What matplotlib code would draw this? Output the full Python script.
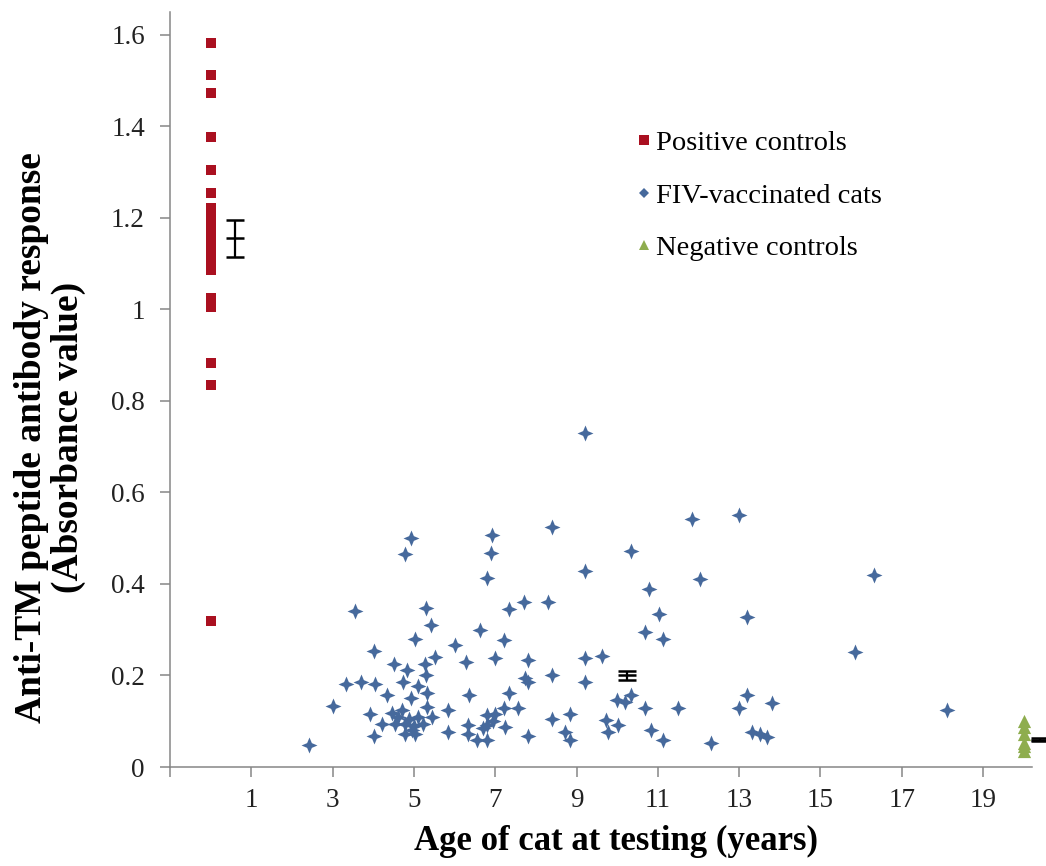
import matplotlib
matplotlib.use("Agg")
import matplotlib.pyplot as plt
from matplotlib.lines import Line2D
import numpy as np

plt.rcParams['font.family'] = ['Liberation Serif', 'DejaVu Serif']

# positive controls (all plotted at age 0)
pos_abs = [1.582, 1.511, 1.473, 1.376, 1.305, 1.255,
           1.222, 1.210, 1.198, 1.190, 1.178, 1.165, 1.155, 1.145,
           1.130, 1.120, 1.108, 1.097, 1.085,
           1.024, 1.006, 0.882, 0.834, 0.319]

# FIV-vaccinated cats: age (years) and absorbance
fiv_age = [2.42, 3.01, 3.54, 3.33, 3.69, 4.04, 4.01, 3.91, 4.01, 4.34,
           4.22, 4.50, 4.83, 4.72, 5.03, 5.29, 5.42, 5.28, 5.52, 5.29,
           5.11, 4.93, 5.32, 4.46, 4.62, 4.79, 4.54, 4.95, 5.11, 5.32,
           5.44, 5.23, 4.79, 5.03, 5.85, 5.83, 6.00, 6.27, 6.36, 6.32,
           6.34, 4.93, 4.79, 6.91, 6.90, 6.79, 6.63, 6.99, 6.54, 6.81,
           9.20, 10.79, 11.04, 10.69, 7.34, 7.70, 8.30, 7.22, 7.81, 9.20,
           9.63, 7.73, 7.81, 8.40, 9.20, 7.34, 7.22, 7.55, 6.79, 6.99,
           6.79, 7.24, 7.81, 8.40, 8.83, 8.71, 8.83, 9.99, 10.18, 10.34,
           10.69, 9.73, 10.01, 9.77, 10.82, 9.22, 8.40, 10.34, 11.83, 13.00,
           16.32, 12.03, 11.12, 13.20, 15.84, 11.50, 13.00, 13.20, 13.81, 11.12,
           12.30, 13.32, 13.51, 13.69, 18.12, 4.70, 4.88, 5.00, 6.95, 6.70]
fiv_abs = [0.048, 0.134, 0.341, 0.181, 0.185, 0.181, 0.253, 0.115, 0.068, 0.158,
           0.095, 0.224, 0.212, 0.186, 0.279, 0.348, 0.310, 0.224, 0.240, 0.202,
           0.177, 0.150, 0.162, 0.117, 0.110, 0.095, 0.095, 0.081, 0.110, 0.132,
           0.110, 0.095, 0.073, 0.073, 0.124, 0.077, 0.266, 0.230, 0.157, 0.092,
           0.073, 0.501, 0.466, 0.507, 0.468, 0.413, 0.300, 0.239, 0.059, 0.060,
           0.429, 0.390, 0.334, 0.295, 0.346, 0.361, 0.361, 0.277, 0.234, 0.239,
           0.242, 0.194, 0.186, 0.201, 0.186, 0.162, 0.128, 0.130, 0.114, 0.116,
           0.092, 0.088, 0.068, 0.106, 0.116, 0.077, 0.059, 0.146, 0.143, 0.157,
           0.130, 0.103, 0.092, 0.077, 0.081, 0.729, 0.525, 0.472, 0.543, 0.551,
           0.419, 0.410, 0.280, 0.328, 0.252, 0.128, 0.128, 0.157, 0.139, 0.060,
           0.052, 0.077, 0.073, 0.066, 0.124, 0.125, 0.105, 0.090, 0.100, 0.085]

# negative controls (plotted at age 20)
neg_abs = [0.100, 0.087, 0.072, 0.052, 0.045, 0.036]

# group means +/- SEM
err_x = [0.6, 10.25, 20.4]
err_mean = [1.155, 0.200, 0.060]
err_sem = [0.040, 0.010, 0.004]

xticks = list(range(-1, 20, 2))
xticklabels = [''] + [str(t) for t in xticks[1:]]
yticks = [0, 0.2, 0.4, 0.6, 0.8, 1.0, 1.2, 1.4, 1.6]
yticklabels = ['0', '0.2', '0.4', '0.6', '0.8', '1', '1.2', '1.4', '1.6']

red = '#AA1020'
blue = '#46699C'
green = '#8EAD4E'

# four-pointed star like the Excel diamond
ang = np.arange(8) * np.pi / 4 + np.pi / 2
rad = np.where(np.arange(8) % 2 == 0, 1.0, 0.42)
star = list(zip(rad * np.cos(ang), rad * np.sin(ang)))

fig = plt.figure(figsize=(10.46, 8.66), dpi=100)
ax = fig.add_axes([0.1625, 0.1143, 0.824, 0.872])

ax.scatter(np.zeros(len(pos_abs)), pos_abs, marker='s', s=7.4 ** 2,
           color=red, linewidths=0, zorder=3)
ax.scatter(fiv_age, fiv_abs, marker=star, s=11.5 ** 2,
           color=blue, linewidths=0, zorder=3)
ax.scatter(np.full(len(neg_abs), 20.0), neg_abs, marker='^', s=9.5 ** 2,
           color=green, linewidths=0, zorder=3)

for x, m, e in zip(err_x, err_mean, err_sem):
    ax.errorbar(x, m, yerr=e, fmt='_', color='black', ms=13, mew=1.8,
                elinewidth=1.6, capsize=6.5, capthick=1.6, clip_on=False,
                zorder=4)

ax.set_xlim(-1, 20.2)
ax.set_ylim(0, 1.65)
ax.set_xticks(xticks)
ax.set_xticklabels(xticklabels)
ax.set_yticks(yticks)
ax.set_yticklabels(yticklabels)

for s in ['top', 'right']:
    ax.spines[s].set_visible(False)
for s in ['left', 'bottom']:
    ax.spines[s].set_color('#868686')
    ax.spines[s].set_linewidth(1.1)
ax.tick_params(axis='both', direction='out', length=7, width=1.1,
               color='#868686', labelsize=19.5, labelcolor='#222222')
ax.tick_params(axis='x', pad=8)
ax.tick_params(axis='y', pad=11)

ax.set_xlabel('Age of cat at testing (years)', fontsize=25,
              fontweight='bold')
ax.xaxis.set_label_coords(0.517, -0.077)
fig.text(0.048, 0.495, 'Anti-TM peptide antibody response\n(Absorbance value)',
         rotation=90, ha='center', va='center', multialignment='center',
         fontsize=27, fontweight='bold', linespacing=1.08)

handles = [
    Line2D([], [], ls='none', marker='s', ms=6.5, color=red, mew=0),
    Line2D([], [], ls='none', marker='D', ms=5.5, color=blue, mew=0),
    Line2D([], [], ls='none', marker='^', ms=7, color=green, mew=0),
]
ax.legend(handles, ['Positive controls', 'FIV-vaccinated cats', 'Negative controls'],
          loc='upper left', bbox_to_anchor=(0.529, 0.858), frameon=False,
          fontsize=20.5, handlelength=0.5, handletextpad=0.15, labelspacing=0.92,
          borderaxespad=0)

fig.savefig('out.png', dpi=100, facecolor='white')
